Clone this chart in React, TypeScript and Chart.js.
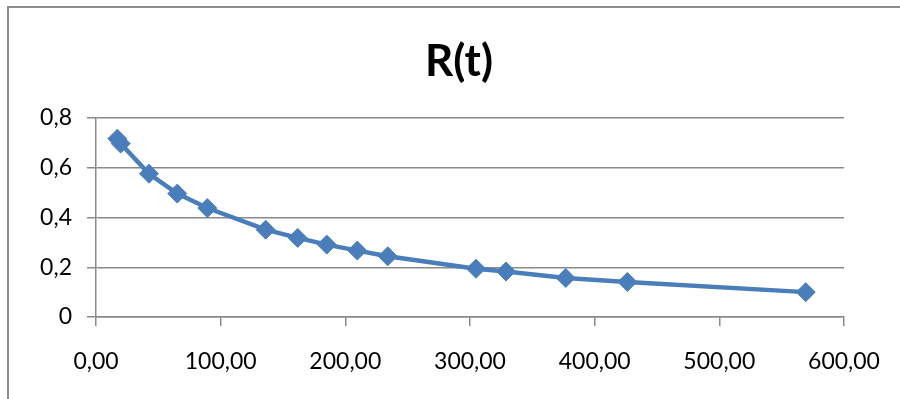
import React, { useEffect, useRef } from "react";
import { Chart, registerables } from "chart.js";

Chart.register(...registerables);

const chartTitle = "R(t)";
const tValues = [17.1, 19.8, 42.5, 65.2, 89.3, 136.1, 161.8, 185.1, 209.6, 234.0, 304.8, 328.9, 376.8, 426.2, 569.3];
const rValues = [0.717, 0.697, 0.576, 0.496, 0.438, 0.351, 0.318, 0.291, 0.267, 0.244, 0.194, 0.183, 0.157, 0.141, 0.1];
const xMin = 0;
const xMax = 600;
const xStep = 100;
const yMin = 0;
const yMax = 0.8;
const yStep = 0.2;

const LINE_BLUE = "#4A7EBB";
const GRID = "#8a8a8a";
const FONT = "Lato, 'Open Sans', sans-serif";

export default function App() {
  const ref = useRef<HTMLCanvasElement | null>(null);

  useEffect(() => {
    if (!ref.current) return;
    const points = tValues.map((t, i) => ({ x: t, y: rValues[i] }));
    const chart = new Chart(ref.current, {
      type: "scatter",
      data: {
        datasets: [
          {
            data: points,
            showLine: true,
            borderColor: LINE_BLUE,
            backgroundColor: LINE_BLUE,
            borderWidth: 4.5,
            pointStyle: "rectRot",
            pointRadius: 9.5,
            pointBorderWidth: 1,
            pointBorderColor: LINE_BLUE,
            pointBackgroundColor: LINE_BLUE,
          },
        ],
      },
      options: {
        responsive: false,
        animation: false,
        layout: { padding: { left: 18, right: 0, top: 0, bottom: 0 } },
        plugins: {
          legend: { display: false },
          tooltip: { enabled: false },
          title: {
            display: true,
            text: chartTitle,
            color: "#000",
            font: { family: FONT, size: 44, weight: "bold", lineHeight: 1.2 },
            padding: { top: 35, bottom: 30.2 },
          },
        },
        scales: {
          x: {
            type: "linear",
            min: xMin,
            max: xMax,
            afterFit: (scale: any) => {
              scale.height = 82;
              scale.paddingRight = 56;
            },
            ticks: {
              stepSize: xStep,
              color: "#000",
              padding: 22,
              font: { family: FONT, size: 23 },
              callback: (v: any) => Number(v).toFixed(2).replace(".", ","),
            },
            grid: {
              drawOnChartArea: false,
              drawTicks: true,
              tickLength: 9,
              color: GRID,
              lineWidth: 1.5,
            },
            border: { display: true, color: GRID, width: 1.5 },
          },
          y: {
            type: "linear",
            min: yMin,
            max: yMax,
            afterFit: (scale: any) => {
              scale.width = 78;
            },
            ticks: {
              stepSize: yStep,
              color: "#000",
              padding: 15,
              font: { family: FONT, size: 23 },
              callback: (v: any) => String(Math.round(Number(v) * 10) / 10).replace(".", ","),
            },
            grid: {
              drawOnChartArea: true,
              drawTicks: true,
              tickLength: 9,
              color: GRID,
              lineWidth: 1.5,
            },
            border: { display: true, color: GRID, width: 1.5 },
          },
        },
      },
    });
    return () => chart.destroy();
  }, []);

  return (
    <div
      style={{
        position: "fixed",
        left: 0,
        top: 0,
        width: 900,
        height: 399,
        overflow: "hidden",
        background: "#fff",
      }}
    >
      <div
        style={{
          position: "absolute",
          left: 7,
          top: 6,
          width: 1000,
          height: 600,
          borderLeft: "2px solid #8c8c8c",
          borderTop: "2px solid #8c8c8c",
        }}
      />
      <canvas ref={ref} width={900} height={399} style={{ position: "absolute", left: 0, top: 0 }} />
    </div>
  );
}
